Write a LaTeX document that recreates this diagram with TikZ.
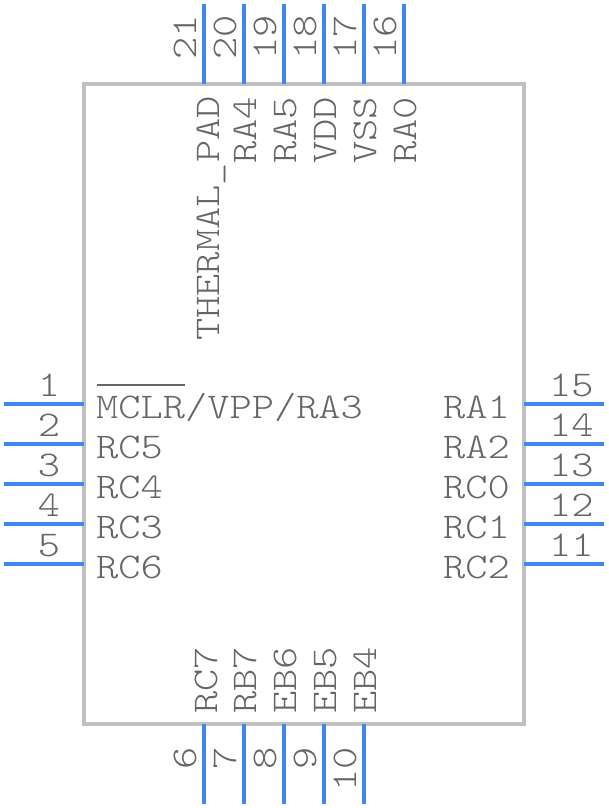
\documentclass[tikz,border=0pt]{standalone}
\usepackage{amsmath}
\usepackage{fontspec}
\setmonofont[FakeStretch=1.17]{Latin Modern Mono Light}
\definecolor{pinblue}{HTML}{4286F4}
\definecolor{bodygray}{HTML}{C0C0C0}
\definecolor{textgray}{HTML}{666666}
\tikzset{
  pinline/.style={draw=pinblue,line width=0.2cm},
  bodyline/.style={draw=bodygray,line width=0.2cm},
  chiptext/.style={text=textgray,inner sep=0pt,font=\fontsize{51.5}{52}\selectfont\ttfamily},
  upleft/.style={chiptext,rotate=90,anchor=base west},
  upright/.style={chiptext,rotate=90,anchor=base east}
}
\begin{document}
\begin{tikzpicture}[x=0.05cm,y=0.05cm]
\useasboundingbox (0,0) rectangle (608,-808);
% body
\draw [bodyline] (84,-84) rectangle (524,-724);
% pin ends
\coordinate (p1a) at (4,-404); \coordinate (p1b) at (84,-404);
\coordinate (p2a) at (4,-444); \coordinate (p2b) at (84,-444);
\coordinate (p3a) at (4,-484); \coordinate (p3b) at (84,-484);
\coordinate (p4a) at (4,-524); \coordinate (p4b) at (84,-524);
\coordinate (p5a) at (4,-564); \coordinate (p5b) at (84,-564);
\coordinate (p6a) at (204,-804); \coordinate (p6b) at (204,-724);
\coordinate (p7a) at (244,-804); \coordinate (p7b) at (244,-724);
\coordinate (p8a) at (284,-804); \coordinate (p8b) at (284,-724);
\coordinate (p9a) at (324,-804); \coordinate (p9b) at (324,-724);
\coordinate (p10a) at (364,-804); \coordinate (p10b) at (364,-724);
\coordinate (p11a) at (604,-564); \coordinate (p11b) at (524,-564);
\coordinate (p12a) at (604,-524); \coordinate (p12b) at (524,-524);
\coordinate (p13a) at (604,-484); \coordinate (p13b) at (524,-484);
\coordinate (p14a) at (604,-444); \coordinate (p14b) at (524,-444);
\coordinate (p15a) at (604,-404); \coordinate (p15b) at (524,-404);
\coordinate (p16a) at (404,-4); \coordinate (p16b) at (404,-84);
\coordinate (p17a) at (364,-4); \coordinate (p17b) at (364,-84);
\coordinate (p18a) at (324,-4); \coordinate (p18b) at (324,-84);
\coordinate (p19a) at (284,-4); \coordinate (p19b) at (284,-84);
\coordinate (p20a) at (244,-4); \coordinate (p20b) at (244,-84);
\coordinate (p21a) at (204,-4); \coordinate (p21b) at (204,-84);
% pins
\draw [pinline] (p1a) -- (p1b);
\draw [pinline] (p2a) -- (p2b);
\draw [pinline] (p3a) -- (p3b);
\draw [pinline] (p4a) -- (p4b);
\draw [pinline] (p5a) -- (p5b);
\draw [pinline] (p6a) -- (p6b);
\draw [pinline] (p7a) -- (p7b);
\draw [pinline] (p8a) -- (p8b);
\draw [pinline] (p9a) -- (p9b);
\draw [pinline] (p10a) -- (p10b);
\draw [pinline] (p11a) -- (p11b);
\draw [pinline] (p12a) -- (p12b);
\draw [pinline] (p13a) -- (p13b);
\draw [pinline] (p14a) -- (p14b);
\draw [pinline] (p15a) -- (p15b);
\draw [pinline] (p16a) -- (p16b);
\draw [pinline] (p17a) -- (p17b);
\draw [pinline] (p18a) -- (p18b);
\draw [pinline] (p19a) -- (p19b);
\draw [pinline] (p20a) -- (p20b);
\draw [pinline] (p21a) -- (p21b);
% pin numbers
\node (n1) [chiptext,anchor=base] at (49,-396) {1};
\node (n2) [chiptext,anchor=base] at (49,-436) {2};
\node (n3) [chiptext,anchor=base] at (49,-476) {3};
\node (n4) [chiptext,anchor=base] at (49,-516) {4};
\node (n5) [chiptext,anchor=base] at (49,-556) {5};
\node (n6) [upright] at (196,-747) {6};
\node (n7) [upright] at (236,-747) {7};
\node (n8) [upright] at (276,-747) {8};
\node (n9) [upright] at (316,-747) {9};
\node (n10) [upright] at (356,-747) {10};
\node (n11) [chiptext,anchor=base west] at (549,-556) {11};
\node (n12) [chiptext,anchor=base west] at (549,-516) {12};
\node (n13) [chiptext,anchor=base west] at (549,-476) {13};
\node (n14) [chiptext,anchor=base west] at (549,-436) {14};
\node (n15) [chiptext,anchor=base west] at (549,-396) {15};
\node (n16) [upleft] at (396,-60) {16};
\node (n17) [upleft] at (356,-60) {17};
\node (n18) [upleft] at (316,-60) {18};
\node (n19) [upleft] at (276,-60) {19};
\node (n20) [upleft] at (236,-60) {20};
\node (n21) [upleft] at (196,-60) {21};
% pin names
\node (mclr) [chiptext,anchor=base west] at (96,-418) {MCLR/VPP/RA3};
\node (rc5) [chiptext,anchor=base west] at (96,-458) {RC5};
\node (rc4) [chiptext,anchor=base west] at (96,-498) {RC4};
\node (rc3) [chiptext,anchor=base west] at (96,-538) {RC3};
\node (rc6) [chiptext,anchor=base west] at (96,-578) {RC6};
\node (rc7) [upleft] at (217,-714) {RC7};
\node (rb7) [upleft] at (256,-714) {RB7};
\node (eb6) [upleft] at (296,-714) {EB6};
\node (eb5) [upleft] at (336,-714) {EB5};
\node (eb4) [upleft] at (376,-714) {EB4};
\node (rc2) [chiptext,anchor=base east] at (510,-578) {RC2};
\node (rc1) [chiptext,anchor=base east] at (510,-538) {RC1};
\node (rc0) [chiptext,anchor=base east] at (510,-498) {RC0};
\node (ra2) [chiptext,anchor=base east] at (510,-458) {RA2};
\node (ra1) [chiptext,anchor=base east] at (510,-418) {RA1};
\node (ra0) [upleft] at (416,-164) {RA0};
\node (vss) [upleft] at (376,-164) {VSS};
\node (vdd) [upleft] at (336,-164) {VDD};
\node (ra5) [upleft] at (296,-164) {RA5};
\node (ra4) [upleft] at (256,-164) {RA4};
\node (thermal) [upleft] at (219,-341) {THERMAL\_PAD};
% bar over MCLR
\coordinate (barl) at (97,-385);
\coordinate (barr) at (185,-385);
\draw [textgray,line width=0.1cm] (barl) -- (barr);
\end{tikzpicture}
\end{document}
